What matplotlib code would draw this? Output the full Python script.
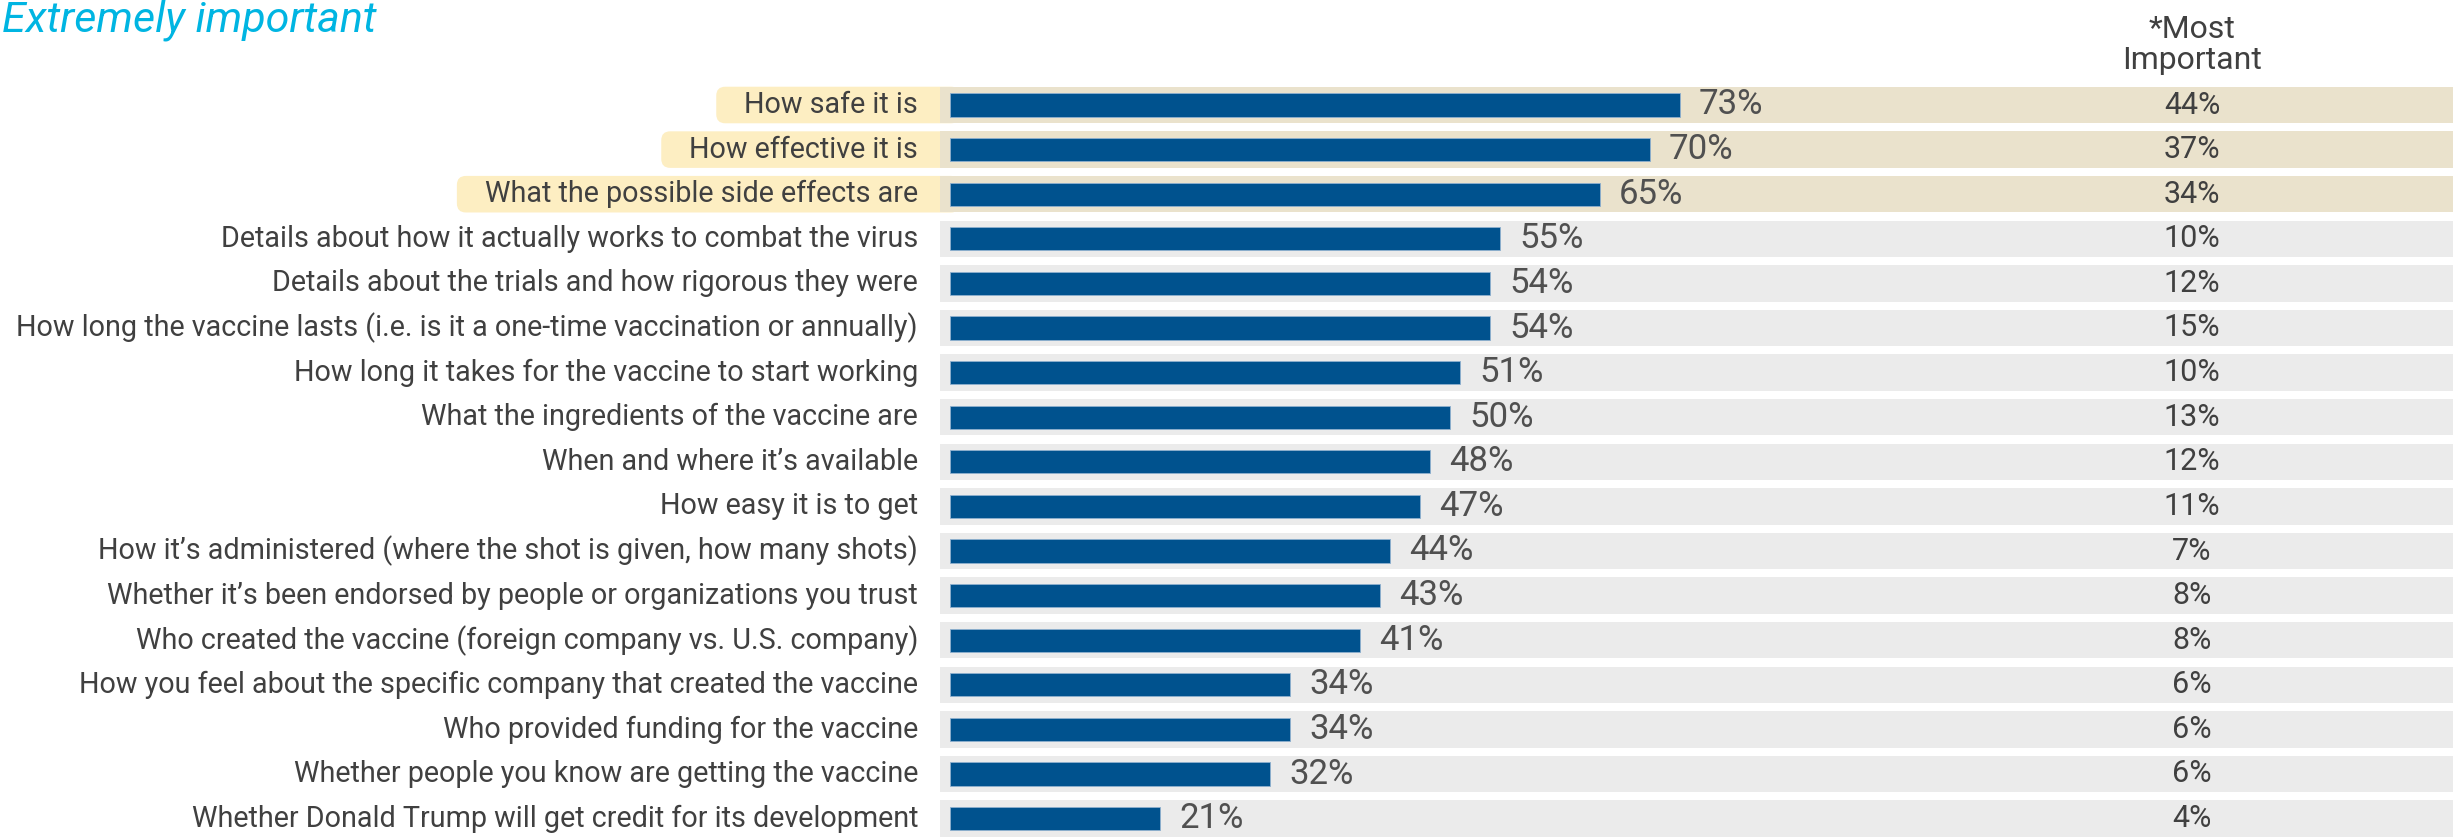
import matplotlib
matplotlib.use('Agg')
import matplotlib.pyplot as plt
from matplotlib.patches import FancyBboxPatch
from matplotlib.transforms import IdentityTransform
import numpy as np

# data
labels = ['How safe it is',
          'How effective it is',
          'What the possible side effects are',
          'Details about how it actually works to combat the virus',
          'Details about the trials and how rigorous they were',
          'How long the vaccine lasts (i.e. is it a one-time vaccination or annually)',
          'How long it takes for the vaccine to start working',
          'What the ingredients of the vaccine are',
          'When and where it\u2019s available',
          'How easy it is to get',
          'How it\u2019s administered (where the shot is given, how many shots)',
          'Whether it\u2019s been endorsed by people or organizations you trust',
          'Who created the vaccine (foreign company vs. U.S. company)',
          'How you feel about the specific company that created the vaccine',
          'Who provided funding for the vaccine',
          'Whether people you know are getting the vaccine',
          'Whether Donald Trump will get credit for its development']
extremely = [73, 70, 65, 55, 54, 54, 51, 50, 48, 47, 44, 43, 41, 34, 34, 32, 21]
most_important = [44, 37, 34, 10, 12, 15, 10, 13, 12, 11, 7, 8, 8, 6, 6, 6, 4]
n_highlight = 3  # top rows shown with yellow label boxes

# colours / fonts
bar_color = '#00528E'
band_gray = '#EBEBEB'
band_beige = '#EAE2CC'
box_yellow = '#FDEEC2'
text_color = '#404040'
font = ['Roboto', 'DejaVu Sans']

W, H = 2453, 838
fig = plt.figure(figsize=(W / 100, H / 100), dpi=100)

# layout in pixels
x0_px = 940          # where the grey bands start
pitch = 44.6         # row spacing
y_first = 105        # centre of first row (from top)
px_per_pct = 10
n = len(labels)
top_px = y_first - pitch / 2
bot_px = y_first + pitch * (n - 1) + pitch / 2
ax = fig.add_axes([x0_px / W, 1 - bot_px / H, 1 - x0_px / W, (bot_px - top_px) / H])
ax.set_xlim(-1, -1 + (W - x0_px) / px_per_pct)
ax.set_ylim(n - 0.5, -0.5)
ax.axis('off')

y = np.arange(n)
band_h = 0.82
band_colors = [band_beige if i < n_highlight else band_gray for i in range(n)]
ax.barh(y, 200, left=-1, height=band_h, color=band_colors, zorder=1)
ax.barh(y, extremely, height=0.52, color=bar_color, edgecolor='#8FB0CF', linewidth=0.6, zorder=2)

for i, v in enumerate(extremely):
    ax.text(v + 1.9, i, '{}%'.format(v), ha='left', va='center', fontsize=25,
            color='#505050', family=font, zorder=3)

for i, m in enumerate(most_important):
    ax.text(124.2, i, '{}%'.format(m), ha='center', va='center', fontsize=22,
            color=text_color, family=font, zorder=3)

label_texts = []
for i, lab in enumerate(labels):
    t = ax.text(-3.2, i, lab, ha='right', va='center', fontsize=19,
                color=text_color, family=font, zorder=3, clip_on=False)
    label_texts.append(t)

# fit label font so the longest label spans the same width as in the reference
fig.canvas.draw()
renderer = fig.canvas.get_renderer()
widest = max(t.get_window_extent(renderer).width for t in label_texts)
fs = 19 * 900 / widest
for t in label_texts:
    t.set_fontsize(fs)
fig.canvas.draw()

# yellow rounded boxes behind the top labels
for i in range(n_highlight):
    bb = label_texts[i].get_window_extent(renderer)
    left = bb.x0 - 28
    right_x, _ = ax.transData.transform((-1, i))
    _, y_top = ax.transData.transform((0, i - band_h / 2))
    _, y_bot = ax.transData.transform((0, i + band_h / 2))
    box = FancyBboxPatch((left, y_bot), right_x + 20 - left, y_top - y_bot,
                         boxstyle='round,pad=0,rounding_size=9',
                         transform=IdentityTransform(), facecolor=box_yellow,
                         edgecolor='none', zorder=0.5, clip_on=False)
    ax.add_artist(box)

fig.text(0.001, 1 - 20 / H, 'Extremely important', ha='left', va='center',
         fontsize=31, style='italic', color='#00B5E2', family=font)
fig.text(2192 / W, 1 - 45 / H, '*Most\nImportant', ha='center', va='center',
         fontsize=23, color=text_color, family=font, linespacing=1.05)

fig.savefig('out.png', dpi=100)
